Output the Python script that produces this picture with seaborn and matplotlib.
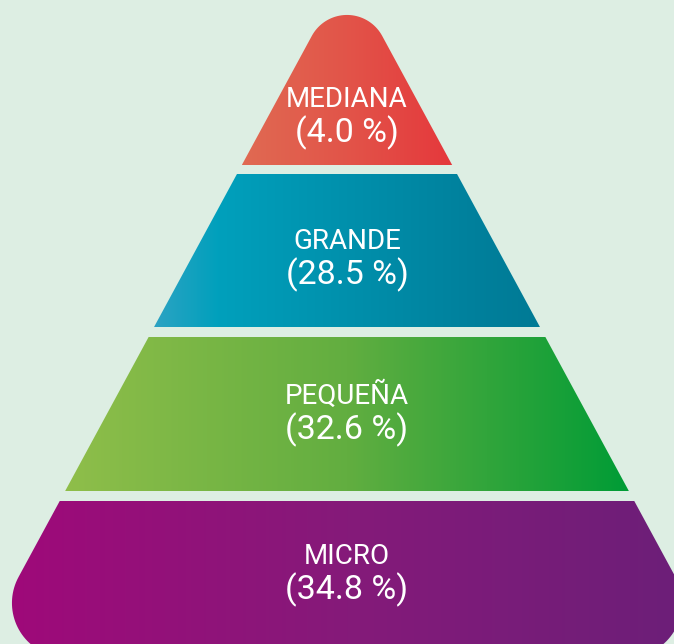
import numpy as np
import matplotlib.pyplot as plt
import seaborn as sns
from matplotlib.patches import Polygon

# datos de la pirámide (de arriba hacia abajo)
categorias = ['MEDIANA', 'GRANDE', 'PEQUEÑA', 'MICRO']
porcentajes = [4.0, 28.5, 32.6, 34.8]
# paradas del degradado de cada franja (izquierda -> derecha)
degradados = [
    ['#e06a52', '#e25449', '#e5383c'],
    ['#2ca3c3', '#00a0bc', '#0098b4', '#0090ac', '#0088a4', '#00809c', '#007a95'],
    ['#8fbe4a', '#62ae40', '#009c36'],
    ['#a10879', '#851a7a', '#6a1f78'],
]

fondo = '#ddeee3'

# geometría en píxeles (figura 674 x 644)
W, H = 674, 644
cx = 347            # eje central
apex_y = -29        # vértice (fuera de la imagen)
pend = 0.542        # media anchura por píxel de altura
base_y = 657.5
r_apex, r_base = 40, 54.5
bandas = [(-40, 165), (174, 327), (337, 491), (501, 700)]
y_cat = [99, 241, 396, 556]
y_pct = [133, 275, 430, 590]

sns.set_theme(style='white')
plt.rcParams['font.family'] = ['Roboto', 'DejaVu Sans']


def poligono_redondeado(vertices, radios, n=40):
    vertices = np.asarray(vertices, float)
    puntos = []
    N = len(vertices)
    for i in range(N):
        p0, p1, p2 = vertices[i - 1], vertices[i], vertices[(i + 1) % N]
        r = radios[i]
        v1 = (p0 - p1) / np.linalg.norm(p0 - p1)
        v2 = (p2 - p1) / np.linalg.norm(p2 - p1)
        ang = np.arccos(np.clip(np.dot(v1, v2), -1, 1))
        t = r / np.tan(ang / 2)
        a = p1 + v1 * t
        b = p1 + v2 * t
        bis = (v1 + v2) / np.linalg.norm(v1 + v2)
        c = p1 + bis * r / np.sin(ang / 2)
        ta = np.arctan2(*(a - c)[::-1])
        tb = np.arctan2(*(b - c)[::-1])
        d = (tb - ta + np.pi) % (2 * np.pi) - np.pi
        th = ta + np.linspace(0, 1, n) * d
        puntos.extend(np.column_stack([c[0] + r * np.cos(th), c[1] + r * np.sin(th)]))
    return np.array(puntos)


def media_anchura(y):
    return pend * (y - apex_y)


fig = plt.figure(figsize=(W / 100, H / 100), dpi=100)
fig.patch.set_facecolor(fondo)
ax = fig.add_axes([0, 0, 1, 1])
ax.set_facecolor(fondo)
ax.set_xlim(0, W)
ax.set_ylim(H, 0)
ax.axis('off')

verts = [(cx, apex_y),
         (cx + media_anchura(base_y), base_y),
         (cx - media_anchura(base_y), base_y)]
contorno = poligono_redondeado(verts, [r_apex, r_base, r_base])

for i, (y0, y1) in enumerate(bandas):
    grad = np.array(sns.blend_palette(degradados[i], n_colors=256))
    hw = media_anchura(min(y1, H))
    im = ax.imshow(grad[np.newaxis, :, :], aspect='auto',
                   extent=(cx - hw, cx + hw, y1, y0), interpolation='bilinear', zorder=2)
    clip = Polygon(contorno, closed=True, transform=ax.transData)
    ax.add_patch(clip)
    clip.set_visible(False)
    im.set_clip_path(clip)

    ax.text(cx, y_cat[i], categorias[i], color='white', fontsize=20,
            ha='center', va='center', zorder=3)
    ax.text(cx, y_pct[i], f'({porcentajes[i]:.1f} %)', color='white', fontsize=24.5,
            ha='center', va='center', zorder=3)

ax.set_xlim(0, W)
ax.set_ylim(H, 0)
fig.savefig('out.png', dpi=100, facecolor=fondo)
